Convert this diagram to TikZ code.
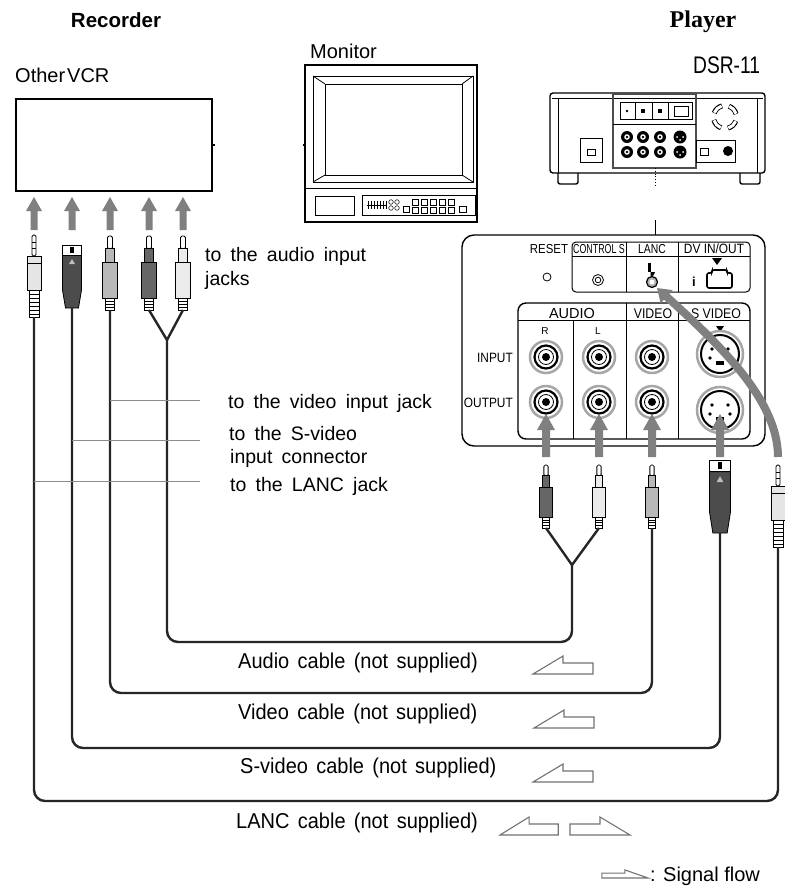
\documentclass[tikz,border=0pt]{standalone}
\usepackage{fontspec}
\usepackage{graphicx}
\setmainfont{Liberation Sans}
\newfontfamily\serifface{Liberation Serif}
\newfontfamily\labfont{Liberation Sans}[WordSpace=1.7]
\newfontfamily\cabfont{Liberation Sans}[FakeStretch=0.93,WordSpace=1.5]
\newfontfamily\panfont{Liberation Sans}[FakeStretch=0.88]
\newfontfamily\narfont{Liberation Sans}[FakeStretch=0.68]
\newfontfamily\lancfont{Liberation Sans}[FakeStretch=0.8]
\newfontfamily\dsrfont{Liberation Sans}[FakeStretch=0.8]
\usetikzlibrary{arrows.meta}
\begin{document}
\begin{tikzpicture}[x=1pt,y=-1pt,
  outline/.style={line width=1.4pt, draw=black},
  thinline/.style={line width=0.8pt, draw=black},
  cable/.style={line width=2.4pt, draw=black!85, rounded corners=11pt},
  leader/.style={line width=1pt, draw=black!45},
  fat/.style={fill=black!50},
  flow/.style={draw=black!55, line width=1.1pt, fill=white},
  lab/.style={inner sep=0pt, anchor=base west, font=\labfont\fontsize{19.5}{22}\selectfont},
  cab/.style={inner sep=0pt, anchor=base west, font=\cabfont\fontsize{21.5}{24}\selectfont},
  hdr/.style={inner sep=0pt, anchor=base west, font=\fontsize{20}{24}\selectfont},
  ttl/.style={inner sep=0pt, anchor=base, font=\bfseries\fontsize{20.5}{24}\selectfont},
  pan/.style={inner sep=0pt, anchor=base, font=\fontsize{12.5}{14}\selectfont},
  narrow/.style={font=\narfont\fontsize{13}{14}\selectfont},
  colhead/.style={inner sep=0pt, anchor=base, font=\panfont\fontsize{14}{16}\selectfont},
  plugbody/.style={fill=black!30},
  rca/.pic={
    \draw[thinline, fill=white, rounded corners=1.5pt] (-2.5,0) rectangle (2.5,13);
    \draw[thinline, plugbody] (-4.5,12) rectangle (4.5,26);
    \draw[thinline, plugbody] (-7.5,26) rectangle (7.5,62);
    \draw[thinline, fill=white] (-4.5,62) rectangle (4.5,74);
    \foreach \yy in {65,68,71} \draw[thinline] (-4.5,\yy) -- (4.5,\yy);
  },
  minijack/.pic={
    \draw[thinline, fill=white, rounded corners=1.5pt] (-2,0) rectangle (2,21);
    \draw[thinline] (-2,7) -- (2,7);
    \draw[thinline] (-2,13) -- (2,13);
    \draw[thinline, fill=black!10] (-7,21) rectangle (7,55);
    \draw[thinline] (-7,28) -- (7,28);
    \draw[thinline, fill=white] (-5,55) rectangle (5,82);
    \foreach \yy in {59,63,...,79} \draw[thinline] (-5,\yy) -- (5,\yy);
  },
  svplug/.pic={
    \draw[thinline, fill=black!70] (-9.5,10) -- (9.5,10) -- (9.5,45) -- (6.5,63) -- (-6.5,63) -- (-9.5,45) -- cycle;
    \draw[thinline, fill=white] (-9.5,0) rectangle (9.5,10);
    \fill[black] (-2,2) rectangle (2,8);
    \fill[black!25] (0,14) -- (3,19) -- (-3,19) -- cycle;
  },
  lflow/.pic={
    \draw[flow] (0,0) -- (30,-18) -- (30,-11) -- (60,-11) -- (60,0) -- cycle;
  }
]
\useasboundingbox (0,0) rectangle (785,887);
\fill[white] (0,0) rectangle (785,887);

% ---------- titles ----------
\node[ttl] (recorder) at (116,27) {Recorder};
\node[ttl, font=\serifface\bfseries\fontsize{24}{28}\selectfont] (player) at (703,27) {Player};
\node[hdr] (monitorlbl) at (310,58) {Monitor};
\node[hdr] (vcrlbl) at (15,82) {Other\kern2pt VCR};
\node[hdr, font=\dsrfont\fontsize{24}{28}\selectfont] (dsrlbl) at (693,73) {DSR-11};

% ---------- other VCR ----------
\draw[outline] (16,99) rectangle (212,191);
\draw[outline] (212,145) -- (215,145);

% ---------- monitor ----------
\draw[outline] (305,65) rectangle (477,222);
\draw[outline] (303,145) -- (305,145);
\draw[thinline] (313,76) rectangle (473,182);
\draw[thinline] (325,84) rectangle (462,175);
\draw[thinline] (313,76) -- (325,84);
\draw[thinline] (473,76) -- (462,84);
\draw[thinline] (313,182) -- (325,175);
\draw[thinline] (473,182) -- (462,175);
\draw[thinline] (305,188) -- (477,188);
\draw[thinline] (315,196) rectangle (354,215);
\draw[thinline] (362,195) rectangle (475,215);
\foreach \xx in {368,371,...,386} \draw[line width=0.5pt] (\xx,201) -- (\xx,209);
\draw[line width=0.5pt] (367,205) -- (387,205);
\foreach \xx in {391,397} {\draw[line width=0.5pt] (\xx,202) circle (2.3); \draw[line width=0.5pt] (\xx,208) circle (2.3);}
\draw[line width=0.5pt] (403,206) rectangle (409,212);
\foreach \xx in {412,421,430,439,448} {\draw[line width=0.5pt] (\xx,199) rectangle (\xx+6,205); \draw[line width=0.5pt] (\xx,207) rectangle (\xx+6,213);}
\draw[line width=0.5pt] (459,206) rectangle (466,212);

% ---------- DSR-11 unit ----------
\draw[outline, rounded corners=3pt] (550,93) rectangle (765,173);
\draw[thinline] (552,98) -- (763,98);
\draw[thinline] (558,98) -- (558,173);
\draw[thinline] (757,98) -- (757,173);
\draw[outline, rounded corners=2pt] (558,173) -- (558,184) -- (578,184) -- (578,173);
\draw[outline, rounded corners=2pt] (740,173) -- (740,184) -- (760,184) -- (760,173);
\draw[line width=1.6pt, draw=black!70] (613,94) rectangle (696,168);
\draw[thinline] (620,102) rectangle (692,119);
\foreach \xx in {635,652,668} \draw[thinline] (\xx,102) -- (\xx,119);
\fill (627,111) circle (1.3);
\fill (641,109) rectangle (645,113);
\fill (658,109) rectangle (662,113);
\draw[thinline] (674,106) rectangle (688,116);
\draw[thinline] (613,124) -- (696,124);
\foreach \xx in {627,643,660} \foreach \yy in {137,152} {\fill (\xx,\yy) circle (6); \fill[white] (\xx,\yy) circle (2.8); \fill (\xx,\yy) circle (1.4);}
\foreach \yy in {137,152} {\fill (680,\yy) circle (6.5); \fill[white] (677,\yy) circle (1); \fill[white] (683,\yy) circle (1); \fill[white] (680,\yy+3) circle (1);}
\draw[thinline] (580,138) rectangle (602,162);
\draw[thinline] (587,149) rectangle (595,155);
\draw[thinline] (696,140) rectangle (735,162);
\draw[thinline] (700,148) rectangle (708,155);
\fill (728,151) circle (5);
\foreach \a in {20,110,200,290} {
  \draw[line width=5pt] (725,117) ++(\a:11.5) arc[start angle=\a, delta angle=55, radius=11.5];
  \draw[white, line width=3pt] (725,117) ++(\a+2:11.5) arc[start angle=\a+2, delta angle=51, radius=11.5];
}
\draw[thinline, dotted] (655,168) -- (655,186);
\draw[thinline] (655,220) -- (655,235);

% ---------- enlarged rear panel ----------
\draw[outline, rounded corners=12pt] (462,235) rectangle (765,446);
\draw[line width=1pt, rounded corners=4pt] (572,242) rectangle (750,292);
\draw[line width=1pt] (572,256) -- (750,256);
\draw[line width=1pt] (626,242) -- (626,292);
\draw[line width=1pt] (678,242) -- (678,292);
\node[pan, font=\panfont\fontsize{13}{14}\selectfont] (reset) at (549,253) {RESET};
\node[pan, narrow] (ctrl) at (599,253) {CONTROL S};
\node[pan, font=\lancfont\fontsize{13}{14}\selectfont] (lanc) at (652,253) {LANC};
\node[pan, font=\panfont\fontsize{13.5}{14}\selectfont] (dvio) at (714,253) {DV IN/OUT};
\draw[thinline] (547,277) circle (4);
\draw[thinline] (598,280) circle (5.5);
\draw[thinline] (598,280) circle (2.8);
\fill (648,263) rectangle (650.5,272);
\fill (650.5,272) -- (655,272) arc[start angle=0, end angle=90, radius=4.5] -- cycle;
\draw[line width=1.2pt, fill=black!30] (652,282) circle (5.5);
\fill[white] (652,282) circle (2.5);
\fill (712,258) -- (722,258) -- (717,265) -- cycle;
\draw[line width=1.6pt, rounded corners=2pt] (707,273) -- (712,273) -- (712,270) -- (727,270) -- (727,273) -- (732,273) -- (732,288) -- (707,288) -- cycle;
\node[inner sep=0pt, anchor=base, font=\bfseries\fontsize{13}{14}\selectfont] (ilink) at (694,286) {i};

\draw[outline, rounded corners=8pt] (518,303) rectangle (750,439);
\draw[line width=1pt] (518,320) -- (750,320);
\draw[line width=1pt] (626,303) -- (626,439);
\draw[line width=1pt] (678,303) -- (678,439);
\draw[line width=1pt] (573,320) -- (573,439);
\node[colhead, font=\fontsize{14.5}{16}\selectfont] (audiohd) at (572,318) {AUDIO};
\node[colhead] (videohd) at (653,318) {VIDEO};
\node[colhead] (svideohd) at (716,318) {S VIDEO};
\node[pan, font=\fontsize{10}{12}\selectfont] (rlbl) at (545,334) {R};
\node[pan, font=\fontsize{10}{12}\selectfont] (llbl) at (598,334) {L};
\node[pan, anchor=base east, font=\panfont\fontsize{13.5}{14}\selectfont] (inlbl) at (513,362) {INPUT};
\node[pan, anchor=base east, font=\panfont\fontsize{13.5}{14}\selectfont] (outlbl) at (513,407) {OUTPUT};
\foreach \xx in {546,599,652} \foreach \yy in {357,402} {
  \draw[black!35, line width=2.5pt] (\xx,\yy) circle (16);
  \draw[line width=2.2pt] (\xx,\yy) circle (11.5);
  \draw[line width=0.8pt] (\xx,\yy) circle (7.5);
  \fill (\xx,\yy) circle (4);
}
\fill (716,326) -- (724,326) -- (720,332) -- cycle;
\foreach \yy in {354,410} {
  \draw[black!35, line width=2.5pt] (720,\yy) circle (23);
  \draw[line width=2pt] (720,\yy) circle (19);
  \fill (712,\yy-5) circle (1.8);
  \fill (728,\yy-5) circle (1.8);
  \fill (710,\yy+4) circle (1.8);
  \fill (730,\yy+4) circle (1.8);
  \fill (716,\yy+7) rectangle (724,\yy+11);
}

% ---------- fat signal arrows ----------
\foreach \xx in {34,72,110,149,183}
  \fill[fat] (\xx,197) -- (\xx+8,211) -- (\xx+3.5,211) -- (\xx+3.5,230) -- (\xx-3.5,230) -- (\xx-3.5,211) -- (\xx-8,211) -- cycle;
\foreach \xx in {546,599,652,720}
  \fill[fat] (\xx,414) -- (\xx+9,430) -- (\xx+4,430) -- (\xx+4,457) -- (\xx-4,457) -- (\xx-4,430) -- (\xx-9,430) -- cycle;
\draw[black!50, line width=8pt, -{Triangle[width=17pt,length=13pt]}] (778,457) .. controls (778,400) and (720,345) .. (657,288);

% ---------- plugs ----------
\pic at (34,235) {minijack};
\pic[plugbody/.style={fill=black!75}] at (72,245) {svplug};
\pic[plugbody/.style={fill=black!28}] at (110,236) {rca};
\pic[plugbody/.style={fill=black!60}] at (149,236) {rca};
\pic[plugbody/.style={fill=black!8}] at (183,236) {rca};
\pic[scale=0.85, plugbody/.style={fill=black!60}] at (546,465) {rca};
\pic[scale=0.85, plugbody/.style={fill=black!8}] at (599,465) {rca};
\pic[scale=0.85, plugbody/.style={fill=black!28}] at (652,465) {rca};
\pic[xscale=1.1, yscale=1.16] at (720,460) {svplug};
\pic at (778,465) {minijack};

% ---------- cable end points ----------
\coordinate (lmini) at (34,317);
\coordinate (lsv) at (72,308);
\coordinate (lvid) at (110,310);
\coordinate (lR) at (149,310);
\coordinate (lL) at (183,310);
\coordinate (lJ) at (167,340);
\coordinate (rR) at (546,528);
\coordinate (rL) at (599,528);
\coordinate (rJ) at (572,565);
\coordinate (rvid) at (652,528);
\coordinate (rsv) at (720,533);
\coordinate (rmini) at (778,547);

% ---------- cables ----------
\draw[cable] (lR) -- (lJ);
\draw[cable] (lL) -- (lJ);
\draw[cable] (rR) -- (rJ);
\draw[cable] (rL) -- (rJ);
\draw[cable] (lJ) -- ++(0,302) -| (rJ);
\draw[cable] (lvid) -- ++(0,383) -| (rvid);
\draw[cable] (lsv) -- ++(0,440) -| (rsv);
\draw[cable] (lmini) -- ++(0,484) -| (rmini);

% ---------- leader lines and labels ----------
\node[lab] (audioin1) at (205,261) {to the audio input};
\node[lab] (audioin2) at (205,285) {jacks};
\node[lab] (videoin) at (228,408) {to the video input jack};
\node[lab] (svin1) at (229,440) {to the S-video};
\node[lab] (svin2) at (230,463) {input connector};
\node[lab] (lancin) at (230,491) {to the LANC jack};
\coordinate (lv1) at (110,400); \coordinate (lv2) at (200,400);
\coordinate (ls1) at (72,440);  \coordinate (ls2) at (200,440);
\coordinate (ll1) at (34,481);  \coordinate (ll2) at (200,481);
\draw[leader] (lv1) -- (lv2);
\draw[leader] (ls1) -- (ls2);
\draw[leader] (ll1) -- (ll2);

\node[cab] (audiocab) at (238,668) {Audio cable (not supplied)};
\node[cab] (videocab) at (238,719) {Video cable (not supplied)};
\node[cab] (svcab) at (240,773) {S-video cable (not supplied)};
\node[cab] (lanccab) at (236,828) {LANC cable (not supplied)};

\pic at (533,674) {lflow};
\pic at (534,728) {lflow};
\pic at (533,782) {lflow};
\pic[xscale=0.97] at (500,835) {lflow};
\pic[xscale=-1] at (630,835) {lflow};

% ---------- legend ----------
\pic[xscale=-0.77, yscale=0.45] at (648,878) {lflow};
\node[hdr] (legend) at (650,881) {: Signal flow};
\end{tikzpicture}
\end{document}
